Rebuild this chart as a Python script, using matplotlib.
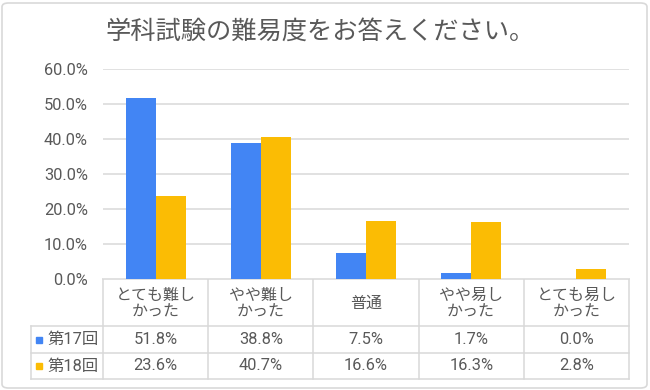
import matplotlib.pyplot as plt
from matplotlib.patches import FancyBboxPatch, Rectangle

plt.rcParams['font.family'] = ['Roboto', 'Noto Sans CJK JP', 'DejaVu Sans']

title = "学科試験の難易度をお答えください。"
categories = ["とても難し\nかった", "やや難し\nかった", "普通", "やや易し\nかった", "とても易し\nかった"]
series_names = ["第17回", "第18回"]
vals_17 = [0.518, 0.388, 0.075, 0.017, 0.000]
vals_18 = [0.236, 0.407, 0.166, 0.163, 0.028]
yticks = [0.0, 0.1, 0.2, 0.3, 0.4, 0.5, 0.6]

colors = ["#4285F4", "#FBBC04"]
text_c = "#595959"
grid_c = "#d9d9d9"

W, H = 650, 390
fig = plt.figure(figsize=(6.5, 3.9), dpi=100)

# outer rounded border
fig.patches.append(FancyBboxPatch((2 / W, 2 / H), 1 - 5 / W, 1 - 5 / H,
                                  boxstyle="round,pad=0,rounding_size=0.01",
                                  transform=fig.transFigure, fill=False,
                                  edgecolor=grid_c, linewidth=1.2))

fig.text(320 / W, 1 - 32 / H, title, ha="center", va="center",
         fontsize=18.2, color=text_c)

# main bar axes (pixel layout)
x0, x1, y_top, y_zero = 103, 629, 69, 279
ax = fig.add_axes([x0 / W, 1 - y_zero / H, (x1 - x0) / W, (y_zero - y_top) / H])
n = len(categories)
bw = 0.285
xs = list(range(n))
ax.bar([x - bw / 2 for x in xs], vals_17, width=bw, color=colors[0], zorder=3)
ax.bar([x + bw / 2 for x in xs], vals_18, width=bw, color=colors[1], zorder=3)
ax.set_xlim(-0.5, n - 0.5)
ax.set_ylim(0, 0.6)
ax.set_yticks(yticks)
ax.set_yticklabels([f"{v * 100:.1f}%" for v in yticks])
ax.tick_params(axis="y", length=0, pad=10.8, labelsize=11.8, labelcolor=text_c)
ax.set_xticks([])
ax.grid(axis="y", color=grid_c, linewidth=1.1, zorder=0)
for s in ax.spines.values():
    s.set_visible(False)

# data table under the chart, drawn in pixel coordinates
tx = fig.add_axes([0, 0, 1, 1], zorder=-1)
tx.set_xlim(0, W)
tx.set_ylim(H, 0)
tx.axis("off")

leg_l = 31
row_y = [279, 326, 353, 379]
col_w = (x1 - x0) / n
col_x = [x0 + i * col_w for i in range(n + 1)]
lw = 1.1

tx.plot([x0, x1], [row_y[0], row_y[0]], color=grid_c, lw=lw)
for y in row_y[1:]:
    tx.plot([leg_l, x1], [y, y], color=grid_c, lw=lw)
for x in col_x:
    tx.plot([x, x], [row_y[0], row_y[-1]], color=grid_c, lw=lw)
tx.plot([leg_l, leg_l], [row_y[1], row_y[-1]], color=grid_c, lw=lw)

for i, cat in enumerate(categories):
    cx = (col_x[i] + col_x[i + 1]) / 2
    tx.text(cx, (row_y[0] + row_y[1]) / 2 + 1, cat, ha="center", va="center",
            fontsize=11.5, color=text_c, linespacing=1.1)

for r, (name, vals) in enumerate(zip(series_names, [vals_17, vals_18])):
    cy = (row_y[r + 1] + row_y[r + 2]) / 2
    tx.add_patch(Rectangle((36, cy - 3), 6, 6, color=colors[r]))
    tx.text(47, cy, name, ha="left", va="center", fontsize=11.8, color=text_c)
    for i, v in enumerate(vals):
        cx = (col_x[i] + col_x[i + 1]) / 2
        tx.text(cx, cy, f"{v * 100:.1f}%", ha="center", va="center",
                fontsize=11.8, color=text_c)

fig.savefig("out.png", dpi=100)
